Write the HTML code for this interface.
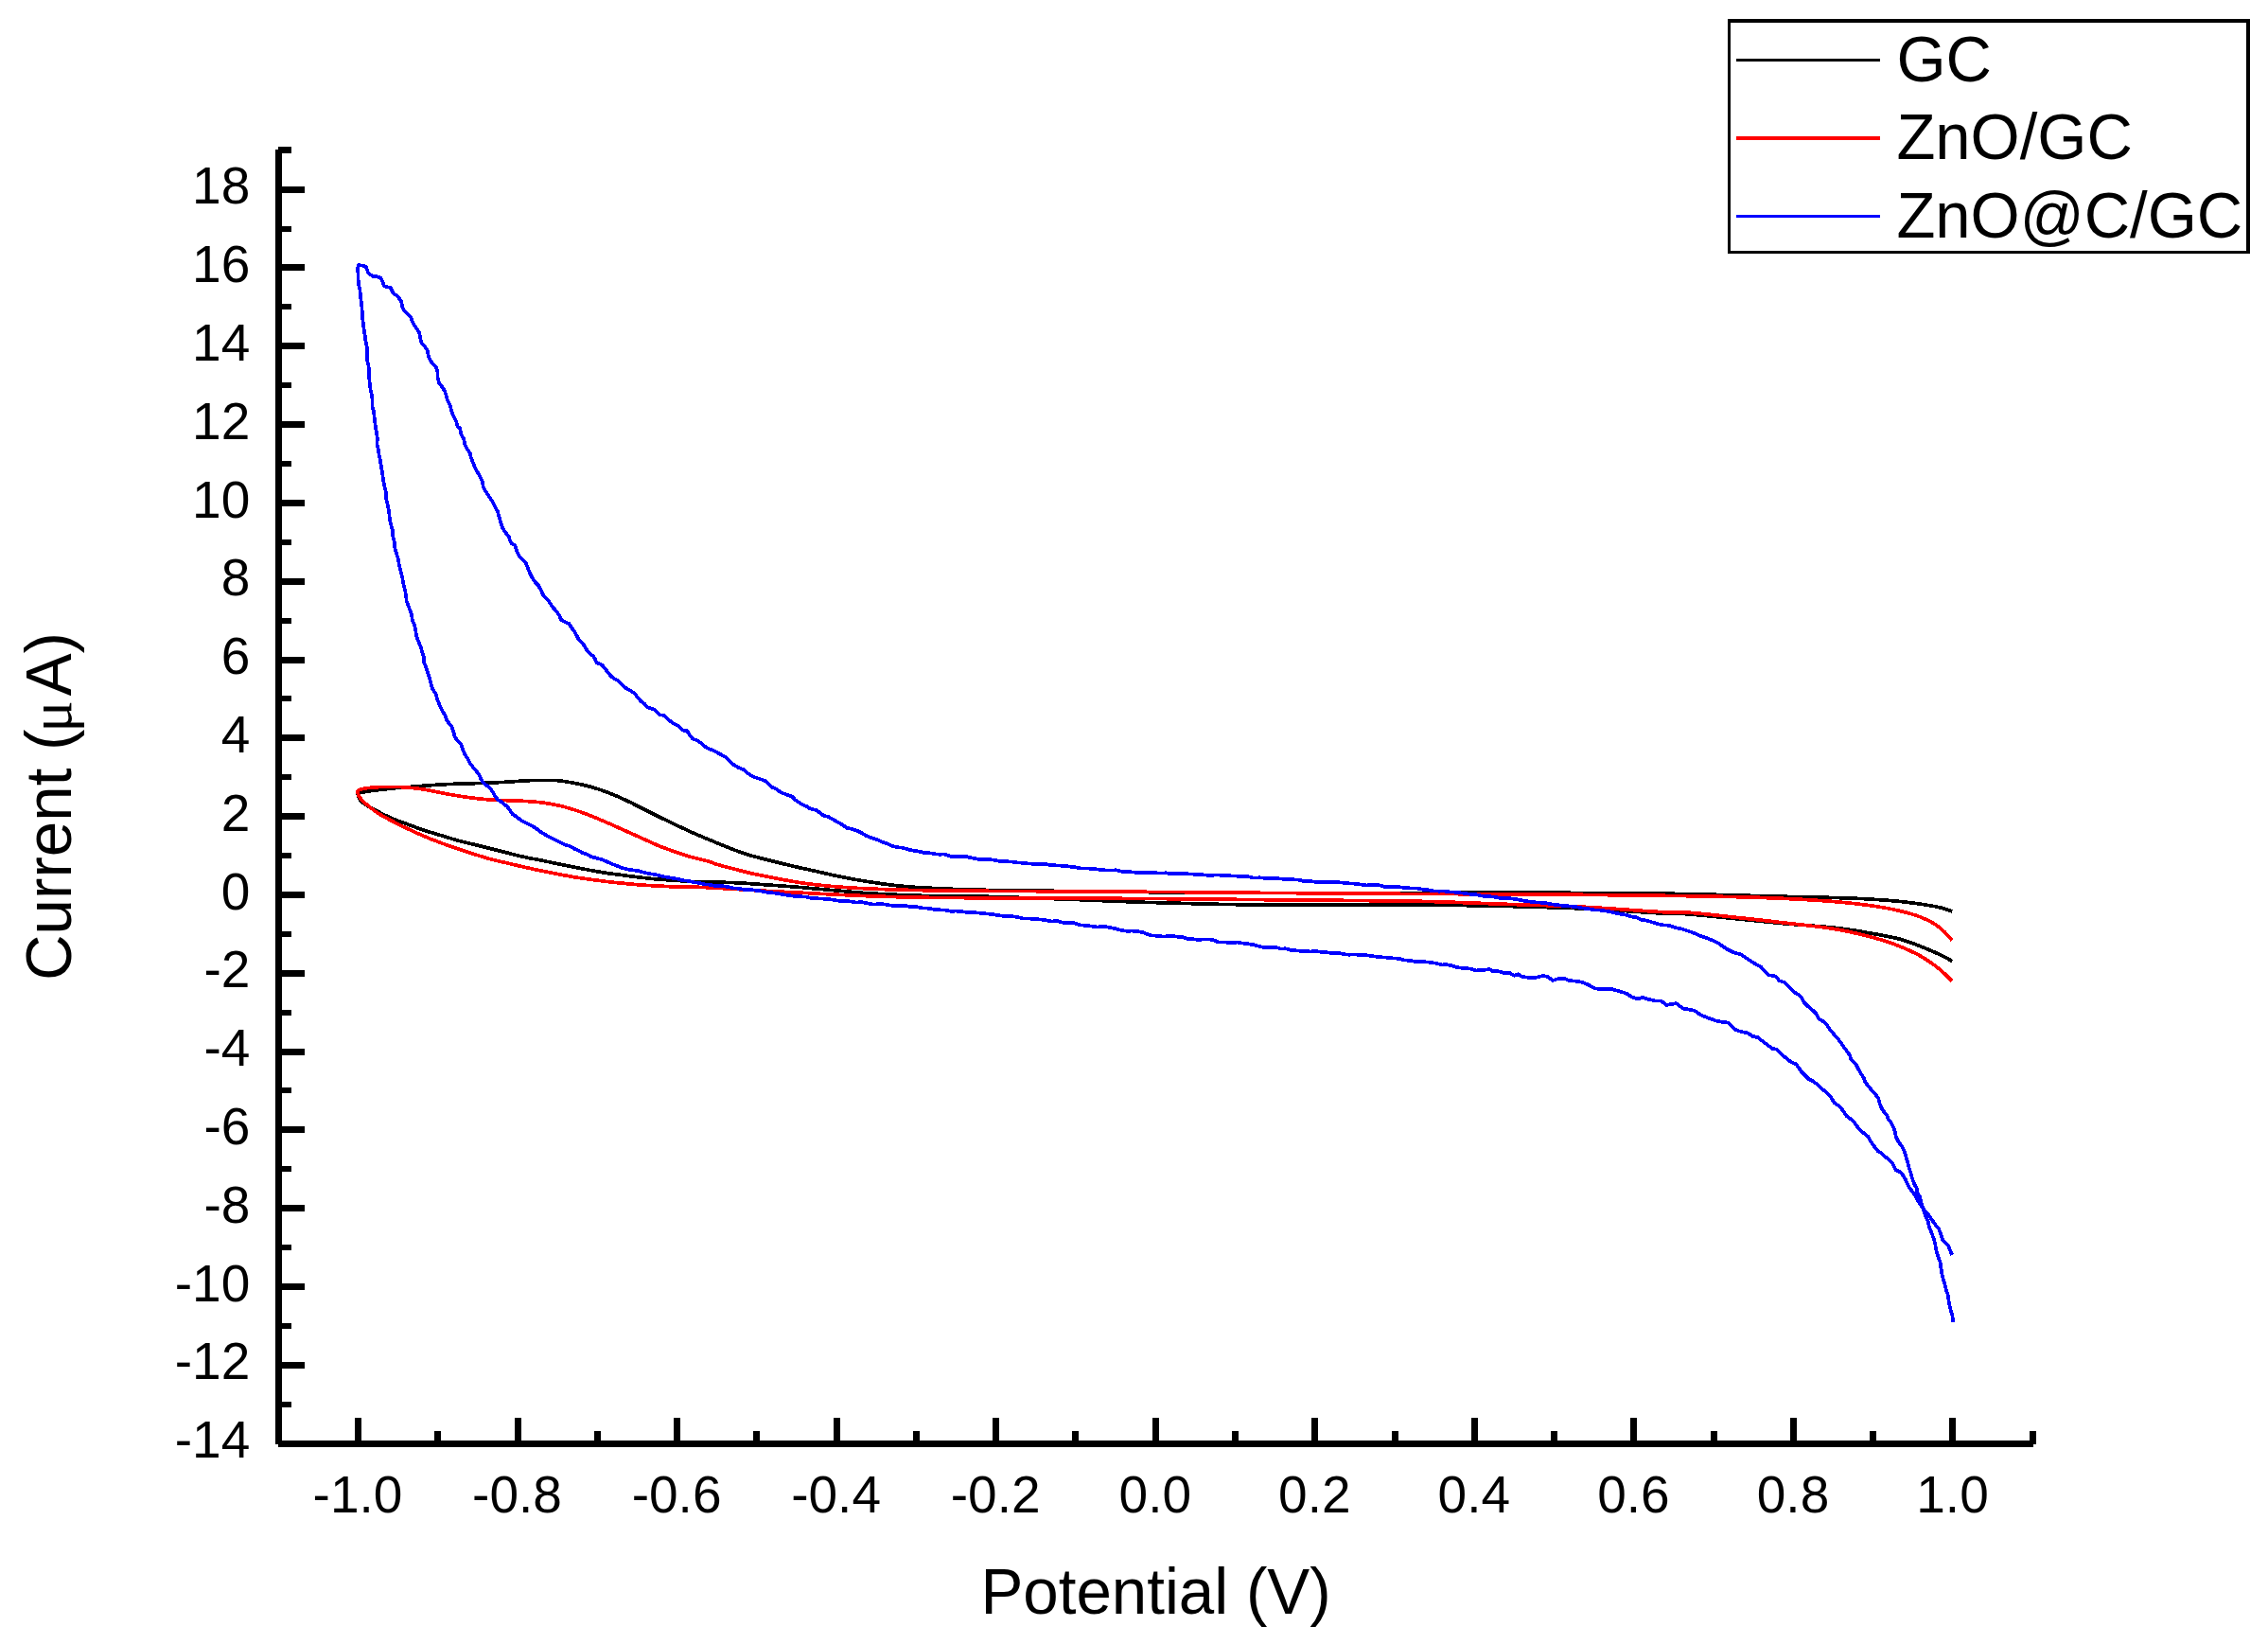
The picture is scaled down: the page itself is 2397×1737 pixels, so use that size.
<!DOCTYPE html>
<html lang="en"><head><meta charset="utf-8"><title>Cyclic voltammograms</title>
<style>
html,body{margin:0;padding:0;background:#fff;}
body{width:2397px;height:1737px;overflow:hidden;}
svg{display:block;}
text{font-family:"Liberation Sans",Arial,Helvetica,sans-serif;fill:#000;}
.tick{font-size:55px;}
.title{font-size:67.3px;}
.leg{font-size:67px;}
.ax{stroke:#000;fill:none;shape-rendering:crispEdges;}
.cv{fill:none;stroke-linejoin:round;stroke-linecap:butt;shape-rendering:crispEdges;}
</style></head><body>
<svg width="2397" height="1737" viewBox="0 0 2397 1737">
<rect x="0" y="0" width="2397" height="1737" fill="#fff"/>

<g class="cv" stroke-width="3.7">
<path stroke="#000" d="M2063.1,1015.5 C2059.9,1013.7 2056.7,1011.8 2053.4,1010.2 C2047.6,1007.4 2041.7,1004.7 2035.7,1002.3 C2027.0,998.8 2018.3,995.1 2009.3,992.6 C1997.7,989.4 1985.8,987.6 1974.0,985.5 C1962.3,983.4 1950.5,981.5 1938.7,980.2 C1921.1,978.3 1903.4,977.4 1885.8,975.8 C1868.2,974.2 1850.5,972.2 1832.9,970.5 C1815.3,968.8 1797.7,966.9 1780.0,965.6 C1774.9,965.2 1769.7,965.8 1764.6,965.5 C1735.2,964.0 1705.8,961.5 1676.4,960.2 C1646.9,958.8 1617.5,958.1 1588.0,957.4 C1558.7,956.7 1529.3,956.3 1500.0,956.1 C1449.7,955.8 1399.3,956.3 1349.0,956.1 C1325.6,956.0 1302.1,955.7 1278.7,955.2 C1252.8,954.7 1226.9,954.0 1201.0,953.1 C1182.3,952.5 1163.7,951.5 1145.0,950.8 C1109.9,949.5 1074.9,948.1 1039.8,947.2 C1022.2,946.7 1004.5,947.0 986.9,946.7 C975.1,946.5 963.4,946.0 951.6,945.5 C939.9,945.0 928.1,944.5 916.4,943.7 C904.6,942.9 892.9,941.7 881.1,940.7 C869.3,939.7 857.6,938.5 845.8,937.5 C834.0,936.5 822.3,935.7 810.5,934.9 C798.8,934.1 787.0,933.1 775.3,932.6 C763.5,932.1 751.8,932.4 740.0,931.9 C730.9,931.6 721.8,930.8 712.7,930.2 C706.8,929.8 701.0,929.5 695.1,929.0 C689.2,928.5 683.4,927.9 677.5,927.2 C671.6,926.5 665.7,925.7 659.8,924.9 C653.9,924.1 648.1,923.5 642.2,922.6 C636.3,921.7 630.5,920.7 624.6,919.6 C618.7,918.5 612.8,917.3 606.9,916.1 C601.0,914.9 595.2,913.8 589.3,912.6 C583.4,911.4 577.5,910.2 571.6,909.0 C565.7,907.8 559.8,906.8 554.0,905.5 C548.1,904.2 542.3,902.6 536.4,901.1 C530.5,899.6 524.6,898.2 518.7,896.7 C512.8,895.2 507.0,893.8 501.1,892.3 C495.2,890.8 489.3,889.5 483.5,887.9 C477.6,886.3 471.7,884.4 465.8,882.6 C459.9,880.8 454.0,879.2 448.2,877.3 C442.2,875.3 436.4,873.0 430.5,870.8 C424.6,868.6 418.6,866.6 412.9,864.1 C406.9,861.5 401.0,858.5 395.3,855.3 C390.9,852.9 386.5,850.5 382.6,847.3 C380.8,845.8 379.4,843.8 378.6,841.6 C378.2,840.4 378.1,838.2 379.3,837.9 C390.3,835.2 401.7,834.5 412.9,833.2 C421.7,832.2 430.6,831.6 439.4,830.9 C449.4,830.1 459.3,829.3 469.3,828.8 C482.8,828.1 496.4,827.9 509.9,827.4 C518.7,827.1 527.6,826.7 536.4,826.2 C542.3,825.9 548.1,825.2 554.0,824.9 C559.9,824.6 565.7,824.4 571.6,824.4 C577.5,824.4 583.4,824.2 589.3,824.7 C595.2,825.2 601.1,826.3 606.9,827.4 C612.8,828.5 618.8,829.8 624.6,831.4 C630.6,833.1 636.4,835.1 642.2,837.3 C648.2,839.5 654.0,842.0 659.8,844.7 C665.8,847.4 671.6,850.6 677.5,853.5 C683.4,856.4 689.2,859.4 695.1,862.3 C700.9,865.2 706.8,868.0 712.7,870.8 C718.6,873.6 724.5,876.4 730.4,879.1 C736.2,881.7 742.1,884.1 748.0,886.6 C751.2,887.9 754.4,889.3 757.6,890.6 C763.5,893.0 769.3,895.5 775.3,897.7 C781.1,899.9 787.0,901.9 792.9,903.7 C798.7,905.5 804.6,906.9 810.5,908.4 C816.4,909.9 822.3,911.4 828.2,912.8 C834.1,914.2 839.9,915.6 845.8,916.9 C851.7,918.2 857.6,919.5 863.5,920.8 C869.4,922.1 875.2,923.5 881.1,924.8 C887.0,926.1 892.8,927.3 898.7,928.4 C904.6,929.5 910.5,930.5 916.4,931.4 C922.3,932.3 928.1,933.2 934.0,934.0 C939.9,934.8 945.7,935.5 951.6,936.1 C957.5,936.7 963.4,937.1 969.3,937.5 C981.1,938.2 992.8,938.9 1004.6,939.3 C1022.2,939.9 1039.9,940.4 1057.5,940.7 C1085.0,941.2 1112.5,941.3 1140.0,941.6 C1168.3,942.0 1196.7,942.6 1225.0,942.8 C1283.3,943.3 1341.7,943.4 1400.0,943.7 C1433.3,943.8 1466.7,944.2 1500.0,944.0 C1517.6,943.9 1535.3,942.9 1552.9,942.9 C1623.5,943.0 1694.0,943.5 1764.6,944.3 C1787.4,944.5 1810.1,945.3 1832.9,945.9 C1850.5,946.3 1868.2,946.9 1885.8,947.3 C1903.4,947.7 1921.1,948.0 1938.7,948.5 C1950.5,948.8 1962.2,949.2 1974.0,949.9 C1985.8,950.6 1997.6,951.4 2009.3,952.6 C2018.1,953.5 2026.9,954.7 2035.7,956.1 C2041.6,957.0 2047.6,958.1 2053.4,959.6 C2056.7,960.5 2059.9,961.9 2063.1,963.1"/>
<path stroke="#f00" d="M2063.1,1036.7 C2060.4,1034.0 2057.9,1031.2 2055.1,1028.7 C2051.7,1025.6 2048.3,1022.6 2044.6,1019.9 C2038.9,1015.8 2033.1,1011.7 2026.9,1008.5 C2018.4,1004.1 2009.5,1000.3 2000.5,997.0 C1991.8,993.8 1982.9,991.3 1974.0,989.1 C1962.3,986.2 1950.6,983.4 1938.7,981.5 C1921.2,978.7 1903.4,977.1 1885.8,975.0 C1868.2,972.9 1850.5,971.0 1832.9,969.1 C1815.3,967.2 1797.7,965.1 1780.0,963.8 C1774.9,963.4 1769.7,964.4 1764.6,964.1 C1735.2,962.6 1705.8,959.9 1676.4,958.4 C1647.0,956.9 1617.6,956.2 1588.2,955.2 C1558.8,954.2 1529.4,952.8 1500.0,952.3 C1449.8,951.4 1399.5,951.3 1349.3,950.8 C1308.1,950.4 1267.0,949.9 1225.8,949.6 C1193.9,949.4 1161.9,949.2 1130.0,949.1 C1088.2,948.9 1046.4,948.9 1004.6,948.6 C986.9,948.5 969.3,948.2 951.6,947.8 C939.9,947.5 928.1,947.1 916.4,946.7 C904.6,946.2 892.9,945.7 881.1,945.1 C869.3,944.5 857.6,943.8 845.8,943.2 C834.0,942.6 822.3,942.1 810.5,941.4 C798.8,940.8 787.0,940.0 775.3,939.3 C763.5,938.6 751.8,937.9 740.0,937.4 C730.9,937.1 721.8,937.2 712.7,936.9 C706.8,936.7 701.0,936.3 695.1,936.0 C689.2,935.7 683.4,935.4 677.5,935.0 C671.6,934.6 665.7,934.0 659.8,933.4 C653.9,932.8 648.1,932.3 642.2,931.6 C636.3,930.9 630.5,930.1 624.6,929.3 C618.7,928.5 612.8,927.7 606.9,926.7 C601.0,925.7 595.2,924.6 589.3,923.5 C583.4,922.4 577.5,921.2 571.6,920.0 C565.7,918.8 559.9,917.4 554.0,916.1 C548.1,914.8 542.3,913.4 536.4,912.0 C530.5,910.6 524.6,909.4 518.7,907.8 C512.8,906.2 506.9,904.3 501.1,902.5 C495.2,900.6 489.3,898.7 483.5,896.7 C477.6,894.7 471.7,892.7 465.8,890.5 C459.9,888.3 454.0,886.0 448.2,883.5 C442.2,881.0 436.3,878.3 430.5,875.5 C424.6,872.7 418.7,869.8 412.9,866.7 C408.1,864.2 403.3,861.8 398.8,858.8 C394.5,855.9 390.4,852.6 386.5,849.1 C383.8,846.7 381.1,844.2 379.3,841.1 C378.3,839.4 376.9,836.2 378.6,835.2 C383.5,832.4 389.7,832.6 395.3,832.0 C401.1,831.4 407.0,831.4 412.9,831.4 C418.8,831.4 424.6,831.6 430.5,832.0 C436.4,832.5 442.3,833.2 448.2,834.1 C454.1,835.0 459.9,836.5 465.8,837.6 C471.7,838.7 477.6,839.8 483.5,840.8 C489.3,841.7 495.2,842.6 501.1,843.3 C507.0,844.0 512.8,844.6 518.7,845.0 C524.6,845.4 530.5,845.5 536.4,845.7 C542.3,845.9 548.1,846.1 554.0,846.4 C559.9,846.8 565.8,847.1 571.6,847.8 C577.5,848.5 583.5,849.5 589.3,850.8 C595.2,852.1 601.1,853.8 606.9,855.6 C612.9,857.5 618.8,859.7 624.6,862.0 C630.5,864.3 636.4,866.9 642.2,869.4 C648.1,872.0 653.9,874.7 659.8,877.3 C665.7,879.9 671.6,882.5 677.5,885.2 C683.4,887.8 689.1,890.7 695.1,893.2 C700.9,895.6 706.8,897.6 712.7,899.7 C718.6,901.7 724.4,903.8 730.4,905.5 C736.2,907.2 742.2,908.2 748.0,909.9 C751.3,910.8 754.3,912.3 757.6,913.3 C763.5,915.0 769.4,916.5 775.3,918.0 C781.2,919.5 787.0,921.1 792.9,922.5 C798.7,923.8 804.6,924.9 810.5,926.1 C816.4,927.3 822.3,928.5 828.2,929.6 C834.1,930.7 839.9,931.7 845.8,932.6 C851.7,933.5 857.6,934.2 863.5,934.9 C869.4,935.6 875.2,936.1 881.1,936.6 C887.0,937.1 892.8,937.5 898.7,937.9 C904.6,938.3 910.5,938.6 916.4,938.9 C928.1,939.4 939.9,939.9 951.6,940.2 C969.3,940.6 986.9,940.9 1004.6,941.1 C1049.7,941.5 1094.9,941.6 1140.0,941.9 C1171.5,942.1 1203.1,942.3 1234.6,942.5 C1281.6,942.9 1328.7,943.4 1375.7,943.7 C1423.8,944.1 1471.9,944.4 1520.0,944.6 C1560.3,944.8 1600.7,944.7 1641.0,945.0 C1682.2,945.3 1723.4,945.8 1764.6,946.4 C1787.4,946.7 1810.1,947.0 1832.9,947.6 C1850.5,948.0 1868.2,948.6 1885.8,949.4 C1903.4,950.2 1921.1,951.2 1938.7,952.6 C1950.5,953.5 1962.3,954.8 1974.0,956.4 C1982.9,957.6 1991.8,958.9 2000.5,960.8 C2009.4,962.7 2018.3,964.9 2026.9,967.9 C2033.1,970.0 2039.0,972.9 2044.6,976.2 C2048.5,978.5 2051.8,981.6 2055.1,984.7 C2058.0,987.4 2060.4,990.6 2063.1,993.5"/>
<polyline stroke="#00f" points="378.5,290.0 378.2,285.1 378.5,280.3 382.5,280.4 386.5,281.5 388.0,284.9 389.1,288.2 393.5,291.7 397.9,292.0 402.3,293.5 404.3,297.9 406.2,302.3 412.9,304.1 415.6,309.7 420.0,312.9 422.2,315.8 424.4,319.1 425.0,323.5 427.0,327.9 430.6,331.5 434.1,335.0 436.5,341.1 440.2,347.3 442.9,350.8 444.1,356.6 445.5,362.3 448.6,365.6 451.7,370.2 452.8,375.9 455.2,381.7 458.0,384.7 460.9,387.9 462.5,393.5 462.5,399.0 464.1,404.6 467.1,408.6 470.2,413.4 471.7,418.2 472.9,423.1 475.7,428.6 477.3,434.1 479.1,439.5 482.1,445.0 483.5,450.5 486.1,452.2 487.2,458.1 490.2,464.0 491.4,469.9 493.7,474.3 496.7,478.7 497.9,484.0 500.2,489.3 502.3,494.6 505.2,499.8 508.1,505.1 510.1,509.5 510.6,514.0 512.6,518.4 515.7,522.8 518.7,527.2 521.4,531.6 523.4,535.8 525.8,540.0 527.6,546.1 529.3,552.3 530.8,557.1 533.7,562.0 538.1,567.3 538.8,570.8 540.8,574.4 544.3,576.2 546.1,581.9 548.7,587.6 552.2,591.4 555.8,594.7 557.9,600.4 560.2,606.1 562.6,610.5 565.5,615.0 569.0,618.5 571.8,623.8 574.3,629.1 578.7,633.5 581.4,637.4 584.0,641.4 586.6,644.2 589.3,647.6 591.5,651.1 592.8,654.6 597.2,657.1 601.6,659.0 603.9,663.0 606.9,667.0 609.7,671.9 612.2,676.7 615.7,679.3 618.4,683.7 621.0,688.1 624.1,691.3 627.2,693.4 629.3,697.0 630.7,700.5 636.0,702.3 639.1,705.9 642.2,710.2 645.7,714.4 649.2,717.2 652.8,719.0 656.3,722.0 659.8,726.1 665.1,729.0 670.4,732.2 674.0,737.0 677.5,741.1 681.0,743.6 684.5,747.2 688.0,748.5 691.6,749.9 694.2,751.9 696.9,755.2 702.1,756.0 704.8,758.9 707.4,761.3 711.8,764.3 716.3,766.6 719.3,769.4 722.4,771.9 726.0,771.9 729.0,776.9 732.1,780.7 737.4,782.5 741.8,785.8 746.2,789.6 750.2,791.5 754.1,792.9 758.2,795.3 762.4,797.5 766.5,799.6 770.9,803.7 775.3,807.9 780.6,811.1 785.9,813.2 791.1,817.7 796.4,820.8 802.6,822.9 808.8,825.0 812.3,828.6 815.8,831.7 819.9,833.3 824.1,836.5 828.2,838.4 832.6,840.1 837.0,841.4 840.5,845.2 844.1,847.6 848.2,850.4 852.3,851.9 856.4,854.6 860.0,855.3 863.5,856.4 867.0,859.3 870.5,861.7 875.8,863.2 881.1,866.1 885.8,869.0 890.5,871.5 895.2,874.9 899.9,875.8 904.6,877.2 909.3,879.3 914.6,882.6 919.9,885.0 924.6,886.2 929.3,888.2 934.0,890.3 938.7,891.8 943.4,894.1 948.1,895.2 954.0,895.7 959.8,897.5 965.7,898.7 971.6,899.7 977.5,901.1 983.4,901.4 988.1,902.3 992.8,902.7 997.5,902.6 1001.0,903.4 1004.6,904.9 1010.5,904.9 1016.3,905.0 1022.2,905.3 1028.1,906.7 1033.9,907.7 1039.8,907.9 1045.7,908.1 1051.6,908.9 1057.5,910.2 1063.4,910.2 1069.2,910.6 1075.1,911.4 1081.0,911.8 1086.8,912.5 1092.7,912.8 1098.6,912.9 1104.5,912.9 1110.4,914.1 1116.9,914.4 1123.5,914.8 1130.0,915.5 1136.1,916.2 1142.3,917.4 1148.4,917.5 1154.5,917.9 1160.6,918.6 1166.8,919.3 1172.9,919.6 1179.5,919.3 1186.1,920.9 1192.7,921.1 1199.3,921.7 1206.0,921.9 1212.6,921.7 1219.2,922.1 1225.8,922.6 1232.4,922.3 1239.0,923.4 1245.6,922.8 1252.2,923.1 1258.9,923.6 1265.5,923.8 1272.1,924.4 1278.7,924.9 1285.3,924.5 1291.9,924.8 1298.5,925.3 1305.2,925.5 1311.8,926.2 1318.4,926.0 1325.0,927.6 1331.6,927.3 1338.2,927.9 1344.8,927.7 1351.5,928.3 1358.1,928.9 1364.7,929.3 1371.3,929.4 1378.0,931.0 1384.6,930.9 1391.2,932.1 1397.8,931.7 1404.4,932.2 1411.0,932.0 1417.7,932.5 1424.3,933.3 1430.9,933.6 1437.5,934.4 1444.1,935.4 1450.7,934.9 1457.3,935.2 1464.0,937.1 1470.6,936.9 1477.2,936.9 1483.8,938.0 1490.4,938.4 1496.9,938.4 1503.5,939.8 1510.0,940.4 1515.5,941.5 1521.0,941.7 1526.5,941.5 1533.1,942.6 1539.7,942.7 1546.3,943.7 1552.9,944.7 1559.5,945.0 1566.2,946.6 1572.8,947.0 1579.4,947.7 1586.0,948.9 1592.6,949.0 1599.2,949.6 1605.8,950.8 1612.4,952.0 1619.0,953.0 1625.7,953.6 1632.3,953.8 1638.9,955.2 1645.5,956.1 1652.1,956.9 1658.7,957.4 1665.3,958.0 1672.0,959.4 1678.6,960.2 1685.2,961.4 1691.8,961.7 1698.4,962.7 1705.0,964.1 1711.6,965.5 1717.5,966.4 1723.4,968.3 1729.3,969.3 1735.2,971.8 1741.0,972.8 1746.9,974.6 1752.8,976.3 1758.7,977.5 1764.6,977.8 1770.5,980.2 1776.3,981.1 1782.2,983.1 1787.3,984.7 1792.5,986.7 1797.6,989.1 1803.5,991.0 1809.4,993.3 1815.3,996.1 1820.6,999.8 1825.9,1003.2 1830.6,1005.6 1835.3,1007.2 1840.0,1008.5 1845.2,1012.0 1850.5,1015.5 1855.8,1018.8 1861.1,1021.7 1865.5,1026.5 1869.9,1030.5 1875.2,1030.9 1877.8,1032.9 1880.5,1036.2 1885.8,1037.9 1890.2,1042.5 1894.6,1046.7 1898.2,1049.6 1901.7,1051.3 1904.8,1055.4 1907.0,1059.6 1910.5,1063.1 1914.0,1065.8 1916.7,1068.2 1919.3,1070.7 1922.0,1076.4 1926.0,1078.6 1929.9,1081.7 1933.5,1087.0 1937.0,1091.4 1941.4,1096.4 1945.8,1101.9 1949.3,1107.2 1952.8,1111.6 1955.3,1115.6 1956.4,1119.6 1959.1,1122.1 1961.7,1124.9 1964.2,1129.8 1967.0,1134.6 1969.9,1139.0 1971.4,1143.4 1974.9,1148.1 1978.4,1152.2 1981.8,1155.9 1985.2,1160.6 1986.8,1166.8 1989.6,1172.9 1994.0,1178.2 1995.8,1182.6 1999.3,1187.0 2001.1,1191.4 2003.0,1195.8 2003.5,1200.3 2005.5,1204.7 2007.7,1208.2 2009.9,1210.8 2012.7,1216.4 2014.3,1222.0 2016.1,1227.6 2017.3,1232.9 2019.1,1238.2 2020.5,1243.5 2022.6,1249.7 2025.8,1255.8 2026.5,1260.5 2029.4,1265.2 2030.2,1269.9 2031.9,1274.6 2033.2,1279.3 2034.6,1284.0 2037.6,1290.5 2039.2,1296.9 2041.7,1303.4 2043.7,1308.7 2045.1,1314.0 2046.1,1319.3 2047.1,1324.0 2048.7,1328.7 2050.5,1333.4 2051.4,1339.9 2052.4,1346.3 2054.0,1352.8 2055.6,1357.5 2056.6,1362.2 2058.4,1366.9 2059.4,1372.8 2060.2,1378.7 2061.9,1384.6 2063.6,1390.8 2064.0,1396.9"/>
<polyline stroke="#00f" points="2063.2,1326.0 2061.0,1321.3 2059.3,1316.7 2056.2,1313.1 2053.1,1309.6 2051.0,1303.4 2048.7,1297.3 2046.0,1294.8 2043.4,1291.1 2040.3,1286.6 2037.2,1282.3 2034.6,1279.8 2032.0,1276.1 2029.3,1272.2 2026.7,1268.2 2024.5,1264.2 2022.3,1260.2 2017.8,1254.9 2015.6,1250.1 2013.4,1245.2 2009.9,1239.9 2006.8,1237.4 2003.7,1236.4 2001.9,1232.9 2000.2,1229.4 1995.8,1224.9 1991.4,1221.4 1988.3,1218.3 1985.2,1216.7 1982.6,1213.8 1979.9,1210.0 1976.8,1205.5 1974.6,1201.1 1970.2,1197.6 1965.8,1194.1 1962.3,1189.6 1958.8,1184.4 1955.2,1181.8 1951.7,1179.1 1948.2,1174.0 1944.7,1169.4 1941.6,1167.2 1938.5,1165.0 1936.4,1161.5 1934.1,1157.9 1929.9,1154.0 1925.5,1150.4 1921.1,1146.0 1916.2,1142.4 1911.4,1139.9 1907.5,1136.0 1903.5,1131.9 1900.8,1127.7 1898.2,1124.3 1892.9,1122.2 1888.5,1118.4 1884.1,1115.2 1881.0,1112.3 1877.9,1108.5 1873.5,1108.1 1870.0,1105.5 1866.4,1102.8 1862.0,1099.5 1857.6,1096.1 1852.3,1094.9 1847.0,1091.4 1842.4,1090.5 1837.9,1089.4 1833.3,1087.5 1829.8,1083.9 1826.3,1080.5 1820.1,1079.8 1813.9,1078.7 1809.2,1076.9 1804.5,1075.2 1799.8,1073.4 1795.4,1070.9 1791.0,1067.8 1784.8,1066.6 1778.7,1065.5 1775.2,1062.9 1771.6,1060.2 1766.3,1061.0 1761.0,1061.9 1755.7,1057.5 1749.6,1057.5 1743.4,1056.1 1739.8,1055.2 1736.3,1053.7 1732.8,1054.9 1729.3,1054.9 1724.6,1053.4 1719.9,1050.2 1715.2,1048.4 1709.0,1046.7 1702.8,1044.8 1696.9,1045.3 1691.1,1045.0 1685.2,1044.3 1679.0,1040.7 1672.8,1038.1 1668.1,1036.8 1663.4,1036.6 1658.7,1036.0 1654.3,1034.2 1649.9,1033.7 1645.5,1034.5 1641.1,1036.0 1635.8,1032.0 1632.2,1031.1 1628.7,1031.4 1623.5,1032.8 1618.8,1032.8 1614.0,1032.7 1609.3,1032.0 1604.1,1029.3 1600.5,1030.7 1595.2,1027.9 1589.3,1027.9 1583.5,1026.2 1577.6,1026.1 1574.1,1024.0 1569.4,1024.8 1564.7,1025.2 1560.0,1025.4 1554.7,1023.7 1549.4,1023.1 1544.7,1022.8 1540.0,1022.1 1535.3,1020.5 1529.4,1019.2 1523.5,1019.4 1517.6,1017.8 1511.3,1016.8 1505.0,1016.2 1500.1,1015.7 1495.3,1016.0 1490.4,1014.8 1484.5,1014.5 1478.6,1012.8 1472.7,1012.5 1466.8,1011.8 1461.0,1011.4 1455.1,1010.8 1449.2,1010.0 1443.4,1009.1 1437.5,1009.0 1431.6,1008.4 1425.7,1008.7 1419.8,1008.1 1413.9,1006.8 1408.1,1007.0 1402.2,1006.3 1396.3,1005.9 1390.5,1005.0 1384.6,1005.5 1379.3,1004.8 1374.0,1004.8 1368.7,1004.2 1363.4,1003.7 1358.7,1002.2 1354.0,1002.7 1349.3,1001.1 1343.4,1001.2 1337.5,1001.2 1331.6,1000.2 1325.7,998.4 1319.9,997.4 1314.0,996.6 1307.4,995.6 1300.8,996.4 1294.1,995.4 1287.5,995.4 1283.1,993.4 1278.7,992.6 1272.8,992.4 1267.0,993.0 1261.1,992.2 1255.2,991.8 1249.4,990.1 1243.5,989.6 1236.9,988.8 1230.2,989.6 1223.6,988.8 1217.0,988.4 1212.6,987.1 1208.2,985.2 1202.3,984.1 1196.4,983.6 1190.5,983.8 1184.6,982.8 1178.8,981.1 1172.9,979.9 1166.3,978.7 1159.7,979.5 1153.1,978.5 1146.5,977.8 1141.0,977.3 1135.5,975.3 1130.0,975.0 1123.8,974.9 1117.6,973.0 1111.3,973.5 1105.1,972.3 1098.9,971.4 1092.7,971.0 1086.8,970.5 1081.0,970.5 1075.1,968.9 1069.2,968.1 1063.4,968.1 1057.5,967.5 1051.6,966.5 1045.7,965.7 1039.8,965.2 1034.0,964.5 1028.1,964.1 1022.2,964.0 1016.3,963.2 1010.4,962.6 1004.5,962.8 998.7,961.6 992.8,961.3 986.9,960.8 981.0,959.7 975.1,959.4 969.2,958.3 963.4,958.1 957.5,957.2 951.6,957.3 945.7,957.1 939.9,956.4 934.0,955.3 928.1,955.3 922.3,955.5 916.4,954.3 910.5,953.1 904.6,953.6 898.8,952.4 892.9,952.0 887.0,951.9 881.1,950.8 875.2,950.0 869.3,949.6 863.5,949.3 857.6,949.1 851.7,947.6 845.8,947.2 839.9,947.0 834.0,946.0 828.1,945.2 822.3,944.1 816.4,943.3 810.5,942.8 804.6,941.4 798.8,940.8 792.9,940.0 787.0,940.2 781.2,938.8 775.3,938.4 769.0,937.0 762.6,935.9 756.3,936.1 750.0,934.7 744.6,934.4 739.2,932.9 733.3,932.3 727.5,930.8 721.6,930.2 715.7,928.6 709.8,927.6 703.9,926.7 698.0,925.5 692.2,923.9 686.3,923.2 681.0,921.9 675.7,920.4 670.4,919.6 664.5,918.8 658.7,917.4 652.8,915.2 647.5,913.1 642.2,910.8 636.0,908.2 629.8,906.4 625.1,905.3 620.4,902.6 615.7,901.1 611.3,898.7 606.9,896.7 601.6,893.8 596.3,892.3 591.6,889.8 586.9,887.5 582.2,885.2 576.9,882.2 571.6,879.1 566.4,875.1 561.1,872.0 555.8,869.4 550.5,866.7 546.1,862.9 541.7,860.5 539.0,856.2 536.4,852.6 531.1,848.0 525.8,844.7 522.5,839.9 519.6,835.0 515.6,830.8 511.7,827.9 508.3,823.3 506.4,818.7 502.9,814.0 499.3,809.8 496.3,805.7 494.2,801.6 491.4,797.5 489.2,791.8 487.0,786.0 483.9,782.9 480.8,779.0 479.3,773.2 477.3,767.5 474.6,764.3 472.0,760.5 470.2,755.5 467.1,750.5 464.9,745.5 462.2,739.5 460.8,733.6 457.1,727.7 455.2,721.7 453.8,715.8 451.9,709.9 449.9,704.0 448.0,699.3 448.1,694.6 446.4,689.9 444.9,684.0 442.5,678.2 440.2,672.3 439.3,666.5 438.1,660.8 435.8,655.0 435.0,649.3 433.3,644.6 431.5,639.9 429.7,635.2 429.0,628.7 427.8,622.3 426.1,615.8 425.1,609.3 423.3,602.9 421.7,596.4 420.8,590.5 419.0,584.7 417.3,578.8 416.7,572.3 415.2,565.9 414.7,559.4 412.8,552.9 411.7,546.5 411.1,540.0 410.0,535.8 409.4,531.6 407.7,525.4 407.7,519.2 406.2,513.1 405.0,506.9 404.1,500.3 403.0,493.7 402.0,487.1 400.6,480.5 399.9,474.8 398.4,469.2 398.9,463.5 398.1,457.9 397.0,452.2 396.3,446.6 395.7,440.9 395.1,435.3 393.5,429.6 393.5,424.0 393.2,418.0 391.7,412.0 390.8,406.0 390.3,400.0 390.0,394.0 389.6,387.3 388.2,380.6 388.3,373.9 387.9,367.2 386.5,360.5 385.6,353.9 384.5,347.3 383.8,340.7 382.9,334.1 382.7,328.5 382.3,322.8 381.5,317.2 381.0,311.5 380.3,305.9 379.1,300.6 378.6,295.3 378.5,290.0"/>
</g>
<g class="ax">
<rect x="291" y="158" width="7" height="1368" fill="#000" stroke="none"/>
<rect x="294" y="1522" width="1855" height="7" fill="#000" stroke="none"/>
<rect x="294" y="1481" width="14" height="6" fill="#000" stroke="none"/>
<rect x="294" y="1439" width="28" height="7" fill="#000" stroke="none"/>
<rect x="294" y="1398" width="14" height="6" fill="#000" stroke="none"/>
<rect x="294" y="1356" width="28" height="7" fill="#000" stroke="none"/>
<rect x="294" y="1315" width="14" height="6" fill="#000" stroke="none"/>
<rect x="294" y="1273" width="28" height="7" fill="#000" stroke="none"/>
<rect x="294" y="1232" width="14" height="6" fill="#000" stroke="none"/>
<rect x="294" y="1190" width="28" height="7" fill="#000" stroke="none"/>
<rect x="294" y="1149" width="14" height="6" fill="#000" stroke="none"/>
<rect x="294" y="1108" width="28" height="7" fill="#000" stroke="none"/>
<rect x="294" y="1067" width="14" height="6" fill="#000" stroke="none"/>
<rect x="294" y="1025" width="28" height="7" fill="#000" stroke="none"/>
<rect x="294" y="984" width="14" height="6" fill="#000" stroke="none"/>
<rect x="294" y="942" width="28" height="7" fill="#000" stroke="none"/>
<rect x="294" y="901" width="14" height="6" fill="#000" stroke="none"/>
<rect x="294" y="859" width="28" height="7" fill="#000" stroke="none"/>
<rect x="294" y="818" width="14" height="6" fill="#000" stroke="none"/>
<rect x="294" y="776" width="28" height="7" fill="#000" stroke="none"/>
<rect x="294" y="735" width="14" height="6" fill="#000" stroke="none"/>
<rect x="294" y="694" width="28" height="7" fill="#000" stroke="none"/>
<rect x="294" y="653" width="14" height="6" fill="#000" stroke="none"/>
<rect x="294" y="611" width="28" height="7" fill="#000" stroke="none"/>
<rect x="294" y="570" width="14" height="6" fill="#000" stroke="none"/>
<rect x="294" y="528" width="28" height="7" fill="#000" stroke="none"/>
<rect x="294" y="487" width="14" height="6" fill="#000" stroke="none"/>
<rect x="294" y="445" width="28" height="7" fill="#000" stroke="none"/>
<rect x="294" y="404" width="14" height="6" fill="#000" stroke="none"/>
<rect x="294" y="362" width="28" height="7" fill="#000" stroke="none"/>
<rect x="294" y="321" width="14" height="6" fill="#000" stroke="none"/>
<rect x="294" y="279" width="28" height="7" fill="#000" stroke="none"/>
<rect x="294" y="239" width="14" height="6" fill="#000" stroke="none"/>
<rect x="294" y="197" width="28" height="7" fill="#000" stroke="none"/>
<rect x="294" y="155" width="14" height="7" fill="#000" stroke="none"/>
<rect x="375" y="1498" width="7" height="28" fill="#000" stroke="none"/>
<rect x="459" y="1512" width="7" height="14" fill="#000" stroke="none"/>
<rect x="544" y="1498" width="7" height="28" fill="#000" stroke="none"/>
<rect x="628" y="1512" width="7" height="14" fill="#000" stroke="none"/>
<rect x="712" y="1498" width="7" height="28" fill="#000" stroke="none"/>
<rect x="796" y="1512" width="7" height="14" fill="#000" stroke="none"/>
<rect x="881" y="1498" width="7" height="28" fill="#000" stroke="none"/>
<rect x="965" y="1512" width="7" height="14" fill="#000" stroke="none"/>
<rect x="1049" y="1498" width="7" height="28" fill="#000" stroke="none"/>
<rect x="1133" y="1512" width="7" height="14" fill="#000" stroke="none"/>
<rect x="1218" y="1498" width="7" height="28" fill="#000" stroke="none"/>
<rect x="1302" y="1512" width="7" height="14" fill="#000" stroke="none"/>
<rect x="1386" y="1498" width="7" height="28" fill="#000" stroke="none"/>
<rect x="1471" y="1512" width="7" height="14" fill="#000" stroke="none"/>
<rect x="1555" y="1498" width="7" height="28" fill="#000" stroke="none"/>
<rect x="1639" y="1512" width="7" height="14" fill="#000" stroke="none"/>
<rect x="1723" y="1498" width="7" height="28" fill="#000" stroke="none"/>
<rect x="1808" y="1512" width="7" height="14" fill="#000" stroke="none"/>
<rect x="1892" y="1498" width="7" height="28" fill="#000" stroke="none"/>
<rect x="1976" y="1512" width="7" height="14" fill="#000" stroke="none"/>
<rect x="2060" y="1498" width="7" height="28" fill="#000" stroke="none"/>
<rect x="2145" y="1512" width="7" height="14" fill="#000" stroke="none"/>
</g>
<text class="tick" text-anchor="end" transform="translate(264.3,1540.2) scale(1,1.0)">-14</text>
<text class="tick" text-anchor="end" transform="translate(264.3,1457.4) scale(1,1.0)">-12</text>
<text class="tick" text-anchor="end" transform="translate(264.3,1374.6) scale(1,1.0)">-10</text>
<text class="tick" text-anchor="end" transform="translate(264.3,1291.8) scale(1,1.0)">-8</text>
<text class="tick" text-anchor="end" transform="translate(264.3,1209.0) scale(1,1.0)">-6</text>
<text class="tick" text-anchor="end" transform="translate(264.3,1126.1) scale(1,1.0)">-4</text>
<text class="tick" text-anchor="end" transform="translate(264.3,1043.3) scale(1,1.0)">-2</text>
<text class="tick" text-anchor="end" transform="translate(264.3,960.5) scale(1,1.0)">0</text>
<text class="tick" text-anchor="end" transform="translate(264.3,877.7) scale(1,1.0)">2</text>
<text class="tick" text-anchor="end" transform="translate(264.3,794.9) scale(1,1.0)">4</text>
<text class="tick" text-anchor="end" transform="translate(264.3,712.1) scale(1,1.0)">6</text>
<text class="tick" text-anchor="end" transform="translate(264.3,629.3) scale(1,1.0)">8</text>
<text class="tick" text-anchor="end" transform="translate(264.3,546.5) scale(1,1.0)">10</text>
<text class="tick" text-anchor="end" transform="translate(264.3,463.6) scale(1,1.0)">12</text>
<text class="tick" text-anchor="end" transform="translate(264.3,380.8) scale(1,1.0)">14</text>
<text class="tick" text-anchor="end" transform="translate(264.3,298.0) scale(1,1.0)">16</text>
<text class="tick" text-anchor="end" transform="translate(264.3,215.2) scale(1,1.0)">18</text>
<text class="tick" text-anchor="middle" transform="translate(378.0,1598.0) scale(1,1.0)">-1.0</text>
<text class="tick" text-anchor="middle" transform="translate(546.5,1598.0) scale(1,1.0)">-0.8</text>
<text class="tick" text-anchor="middle" transform="translate(715.1,1598.0) scale(1,1.0)">-0.6</text>
<text class="tick" text-anchor="middle" transform="translate(883.6,1598.0) scale(1,1.0)">-0.4</text>
<text class="tick" text-anchor="middle" transform="translate(1052.2,1598.0) scale(1,1.0)">-0.2</text>
<text class="tick" text-anchor="middle" transform="translate(1220.8,1598.0) scale(1,1.0)">0.0</text>
<text class="tick" text-anchor="middle" transform="translate(1389.3,1598.0) scale(1,1.0)">0.2</text>
<text class="tick" text-anchor="middle" transform="translate(1557.8,1598.0) scale(1,1.0)">0.4</text>
<text class="tick" text-anchor="middle" transform="translate(1726.4,1598.0) scale(1,1.0)">0.6</text>
<text class="tick" text-anchor="middle" transform="translate(1895.0,1598.0) scale(1,1.0)">0.8</text>
<text class="tick" text-anchor="middle" transform="translate(2063.5,1598.0) scale(1,1.0)">1.0</text>
<text class="title" text-anchor="middle" transform="translate(1221.5,1705.0) scale(1,1.01)">Potential (V)</text>
<text class="title" text-anchor="middle" transform="translate(75,852) rotate(-90) scale(1,1.01)">Current (<tspan font-family="'Liberation Serif','DejaVu Serif',serif" font-size="62px" dx="-3">μ</tspan><tspan dx="5">A)</tspan></text>
<g shape-rendering="crispEdges" fill="#000"><rect x="1826" y="20" width="552" height="4"/><rect x="1826" y="265" width="552" height="3"/><rect x="1826" y="20" width="3" height="248"/><rect x="2374" y="20" width="4" height="248"/></g>
<rect x="1835" y="61.8" width="152" height="3.5" fill="#000" shape-rendering="crispEdges"/>
<rect x="1835" y="144.2" width="152" height="3.5" fill="#f00" shape-rendering="crispEdges"/>
<rect x="1835" y="226.8" width="152" height="3.5" fill="#00f" shape-rendering="crispEdges"/>
<text class="leg" text-anchor="start" transform="translate(2004.4,86.0) scale(1,1.03)">GC</text>
<text class="leg" text-anchor="start" transform="translate(2004.4,167.7) scale(1,1.03)">ZnO/GC</text>
<text class="leg" text-anchor="start" transform="translate(2004.4,250.8) scale(1,1.03)">ZnO@C/GC</text>
</svg>
</body></html>
